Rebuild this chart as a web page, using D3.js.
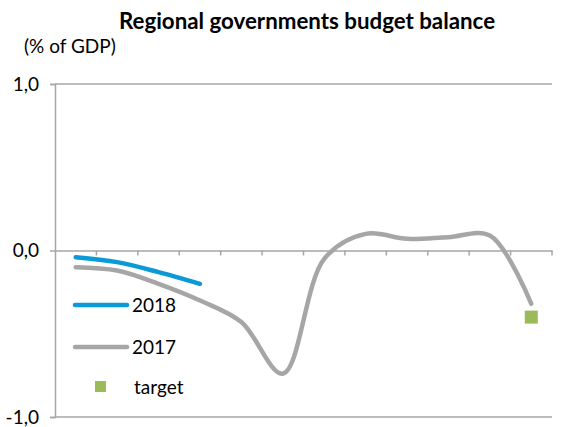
<!DOCTYPE html>
<html>
<head>
<meta charset="utf-8">
<script src="https://cdn.jsdelivr.net/npm/d3@7"></script>
<style>
  html, body { margin: 0; padding: 0; background: #fff; }
  svg { display: block; font-family: Lato, "Open Sans", sans-serif; }
</style>
</head>
<body>
<svg id="chart" width="572" height="427"></svg>
<script>
// Regional governments budget balance, monthly, % of GDP.
const months = ["Jan", "Feb", "Mar", "Apr", "May", "Jun", "Jul", "Aug", "Sep", "Oct", "Nov", "Dec"];
const y2017 = [-0.10, -0.12, -0.20, -0.30, -0.43, -0.74, -0.05, 0.10, 0.07, 0.08, 0.09, -0.32];
const y2018 = [-0.04, -0.07, -0.13, -0.20];
const target = [{ month: "Dec", value: -0.40 }];
const yTicks = [1, 0, -1];

const COL = { y2018: "#0a9ad7", y2017: "#a6a6a6", target: "#9bbb59", axis: "#a6a6a6" };

const svg = d3.select("#chart");
const M = { l: 55, r: 552, t: 84, b: 417 };

const x = d3.scaleBand().domain(months).range([M.l, M.r]);
const y = d3.scaleLinear().domain([-1, 1]).range([M.b, M.t]);
const cx = (m) => x(m) + x.bandwidth() / 2;

// ---- title ----
svg.append("text")
  .attr("x", 307).attr("y", 29).attr("text-anchor", "middle")
  .attr("font-weight", "bold").attr("font-size", 22.3).attr("fill", "#000")
  .text("Regional governments budget balance");
svg.append("text")
  .attr("x", 24).attr("y", 53).attr("font-size", 19).attr("fill", "#000")
  .text("(% of GDP)");

// ---- axes ----
// comma decimal, plain hyphen for the minus sign
const loc = d3.formatLocale({ decimal: ",", thousands: ".", grouping: [3], currency: ["", ""], minus: "-" });
const fmtY = loc.format(".1f");
svg.append("g")
  .attr("transform", `translate(${M.l},0)`)
  .call(d3.axisLeft(y).tickValues(yTicks).tickSize(5).tickFormat(fmtY))
  .call((g) => g.select(".domain").attr("stroke", COL.axis).attr("stroke-width", 1.5))
  .call((g) => g.selectAll(".tick line").attr("stroke", COL.axis).attr("stroke-width", 1.5))
  .call((g) => g.selectAll(".tick text").attr("x", -16).attr("font-size", 19)
    .attr("fill", "#000").attr("font-family", "Lato, sans-serif"));

// horizontal lines at 1,0 and -1,0
svg.selectAll("line.hline").data([1, -1]).join("line").attr("class", "hline")
  .attr("x1", M.l).attr("x2", M.r).attr("y1", (d) => y(d)).attr("y2", (d) => y(d))
  .attr("stroke", COL.axis).attr("stroke-width", 1.5);

// category axis on the zero line, ticks between months
svg.append("g")
  .attr("transform", `translate(0,${y(0)})`)
  .call(d3.axisBottom(x).tickSize(0).tickFormat(""))
  .call((g) => g.select(".domain").attr("stroke", COL.axis).attr("stroke-width", 1.5));
svg.selectAll("line.xtick").data(months).join("line").attr("class", "xtick")
  .attr("x1", (d) => x(d) + x.bandwidth()).attr("x2", (d) => x(d) + x.bandwidth())
  .attr("y1", y(0)).attr("y2", y(0) + 5)
  .attr("stroke", COL.axis).attr("stroke-width", 1.5);

// ---- series ----
const line = d3.line()
  .x((d, i) => cx(months[i]))
  .y((d) => y(d))
  .curve(d3.curveCatmullRom.alpha(0.5));

svg.append("path").datum(y2017)
  .attr("d", line).attr("fill", "none")
  .attr("stroke", COL.y2017).attr("stroke-width", 4.5).attr("stroke-linecap", "round");
svg.append("path").datum(y2018)
  .attr("d", line).attr("fill", "none")
  .attr("stroke", COL.y2018).attr("stroke-width", 4.5).attr("stroke-linecap", "round");

const sq = 13;
svg.selectAll("rect.target").data(target).join("rect").attr("class", "target")
  .attr("x", (d) => cx(d.month) - sq / 2).attr("y", (d) => y(d.value) - sq / 2)
  .attr("width", sq).attr("height", sq).attr("fill", COL.target);

// ---- legend ----
const legend = [
  { label: "2018", type: "line", col: COL.y2018, y: 305 },
  { label: "2017", type: "line", col: COL.y2017, y: 347 },
  { label: "target", type: "square", col: COL.target, y: 387 },
];
const lg = svg.selectAll("g.lg").data(legend).join("g").attr("class", "lg");
lg.filter((d) => d.type === "line").append("line")
  .attr("x1", 75).attr("x2", 127).attr("y1", (d) => d.y).attr("y2", (d) => d.y)
  .attr("stroke", (d) => d.col).attr("stroke-width", 4.5).attr("stroke-linecap", "round");
lg.filter((d) => d.type === "square").append("rect")
  .attr("x", 95).attr("y", (d) => d.y - 6).attr("width", 11).attr("height", 11)
  .attr("fill", (d) => d.col);
lg.append("text")
  .attr("x", (d) => d.type === "line" ? 132 : 134).attr("y", (d) => d.y).attr("dy", "0.35em")
  .attr("font-size", 19).attr("fill", "#000")
  .text((d) => d.label);
</script>
</body>
</html>
